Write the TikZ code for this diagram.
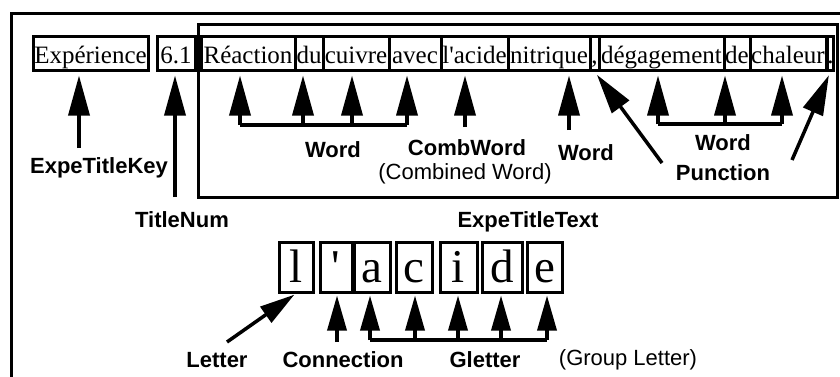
\documentclass[tikz,border=0pt]{standalone}
\usepackage{fontspec}
\setmainfont{Liberation Serif}
\setsansfont{Liberation Sans}
\usetikzlibrary{arrows.meta}
\begin{document}
\begin{tikzpicture}[x=1pt,y=-1pt,
  wbox/.style={draw, line width=3pt, inner sep=0pt, minimum height=34pt, text height=24pt, text depth=3pt, font=\fontsize{25}{25}\selectfont},
  lbox/.style={draw, line width=3pt, inner sep=0pt, minimum height=50pt, text height=34pt, text depth=3pt, font=\fontsize{47}{47}\selectfont},
  lab/.style={font=\sffamily\bfseries\fontsize{22}{22}\selectfont, inner sep=0pt},
  note/.style={font=\sffamily\fontsize{22}{22}\selectfont, inner sep=0pt},
  arr/.style={line width=3.5pt, shorten >=4pt, -{Triangle[length=40pt,width=21pt]}},
  sarr/.style={line width=3.5pt, shorten >=2pt, -{Triangle[length=35pt,width=19pt]}},
  brk/.style={line width=3.5pt},
  frame/.style={line width=3pt},
]
\useasboundingbox (0,0) rectangle (840,376);
% frames
\draw[frame] (11.5,380) -- (11.5,13.5) -- (845,13.5);
\draw[frame] (198.5,24.5) rectangle (837.5,197.5);
% word boxes
\node[wbox, minimum width=115pt] (exp) at (90.5,53) {Expérience};
\node[wbox, minimum width=38pt] (num) at (176,53) {6.1};
\node[wbox, minimum width=94pt] (rea) at (248,53) {Réaction};
\node[wbox, minimum width=28pt] (du) at (309,53) {du};
\node[wbox, minimum width=66pt] (cui) at (356,53) {cuivre};
\node[wbox, minimum width=52pt] (ave) at (415,53) {avec};
\node[wbox, minimum width=67pt] (aci) at (474.5,53) {l\textquotesingle acide};
\node[wbox, minimum width=82pt] (nit) at (549,53) {nitrique};
\node[wbox, minimum width=9pt] (com) at (594.5,53) {,};
\node[wbox, minimum width=125pt] (deg) at (661.5,53) {dégagement};
\node[wbox, minimum width=26pt] (de) at (737,53) {de};
\node[wbox, minimum width=76pt] (cha) at (788,53) {chaleur};
\node[wbox, minimum width=5pt] (per) at (830.5,53) {.};
% letter boxes
\node[lbox, minimum width=34pt] (lL) at (296,267) {l};
\node[lbox, minimum width=32pt] (lQ) at (336,267) {\textquotesingle};
\node[lbox, minimum width=36pt] (lA) at (372,267) {a};
\node[lbox, minimum width=36pt] (lC) at (414,267) {c};
\node[lbox, minimum width=37pt] (lI) at (458.5,267) {i};
\node[lbox, minimum width=40pt] (lD) at (502,267) {d};
\node[lbox, minimum width=35pt] (lE) at (545,267) {e};
% labels
\node[lab] (kExp) at (99,168) {ExpeTitleKey};
\node[lab] (kNum) at (182,220) {TitleNum};
\node[lab] (kW1) at (333,150) {Word};
\node[lab] (kCW) at (467,148) {CombWord};
\node[note] (kCWn) at (465,174) {(Combined Word)};
\node[lab] (kW2) at (586,153) {Word};
\node[lab] (kW3) at (723,143) {Word};
\node[lab] (kP) at (723,173) {Punction};
\node[lab] (kETT) at (528,222) {ExpeTitleText};
\node[lab] (kL) at (217,360) {Letter};
\node[lab] (kC) at (343,360) {Connection};
\node[lab] (kG) at (485,360) {Gletter};
\node[note] (kGn) at (628,360) {(Group Letter)};
% tails
\coordinate (tExp) at (79,148);
\coordinate (tNum) at (175,197);
\coordinate (w1) at (240,125);
\coordinate (w2) at (303,125);
\coordinate (w3) at (352,125);
\coordinate (w4) at (407,125);
\coordinate (tCW) at (465,127);
\coordinate (tW2) at (569,130);
\coordinate (tPl) at (662,163);
\coordinate (tPr) at (792,160);
\coordinate (p1) at (658,124);
\coordinate (p2) at (725,124);
\coordinate (p3) at (782,124);
\coordinate (tL) at (227,342);
\coordinate (tC) at (337,342);
\coordinate (g1) at (370,340);
\coordinate (g2) at (415,340);
\coordinate (g3) at (458,340);
\coordinate (g4) at (501,340);
\coordinate (g5) at (547,340);
% upper arrows
\draw[arr] (tExp) -- (tExp |- exp.south);
\draw[arr] (tNum) -- (tNum |- num.south);
\draw[brk] (w1) -- (w4);
\draw[arr] (w1) -- (w1 |- rea.south);
\draw[arr] (w2) -- (w2 |- du.south);
\draw[arr] (w3) -- (w3 |- cui.south);
\draw[arr] (w4) -- (w4 |- ave.south);
\draw[arr] (tCW) -- (tCW |- aci.south);
\draw[arr] (tW2) -- (tW2 |- nit.south);
\draw[arr] (tPl) -- (com.south);
\draw[arr] (tPr) -- (per.south);
\draw[brk] (p1) -- (p3);
\draw[arr] (p1) -- (p1 |- deg.south);
\draw[arr] (p2) -- (p2 |- de.south);
\draw[arr] (p3) -- (p3 |- cha.south);
% lower arrows
\draw[sarr] (tL) -- (lL.south);
\draw[sarr] (tC) -- (tC |- lQ.south);
\draw[brk] (g1) -- (g5);
\draw[sarr] (g1) -- (g1 |- lA.south);
\draw[sarr] (g2) -- (g2 |- lC.south);
\draw[sarr] (g3) -- (g3 |- lI.south);
\draw[sarr] (g4) -- (g4 |- lD.south);
\draw[sarr] (g5) -- (g5 |- lE.south);
\end{tikzpicture}
\end{document}
